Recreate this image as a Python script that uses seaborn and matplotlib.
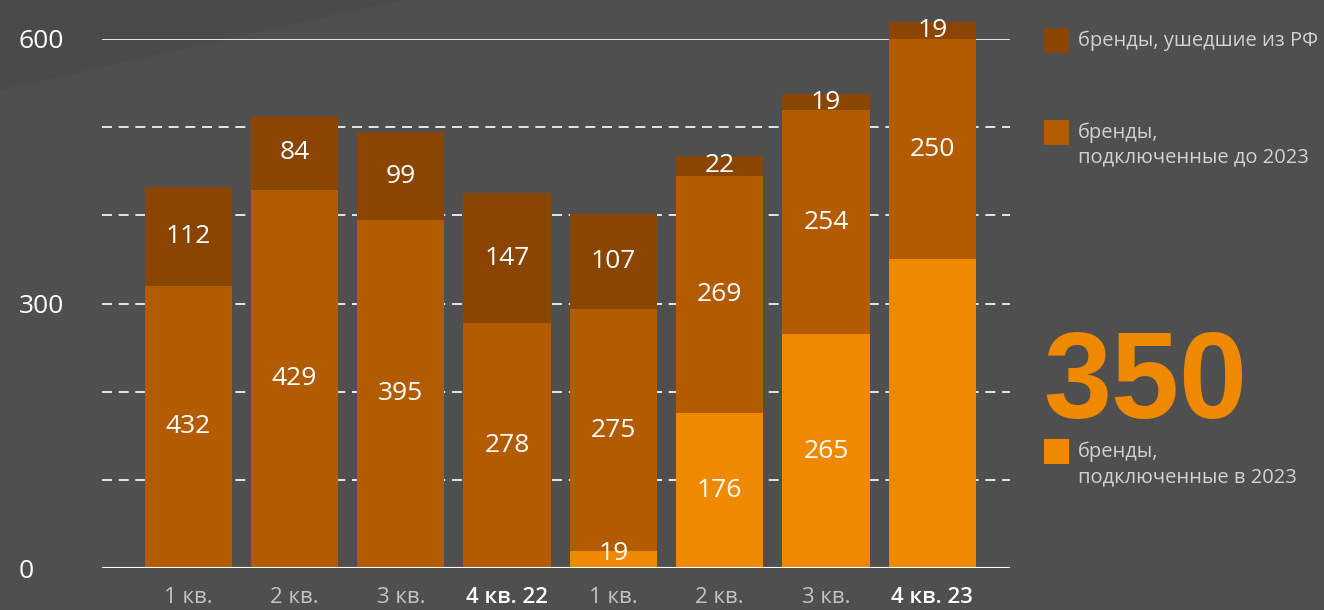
import numpy as np
import pandas as pd
import seaborn as sns
import matplotlib.pyplot as plt
from matplotlib.patches import Rectangle, Polygon

# data
quarters = ["1 кв.", "2 кв.", "3 кв.", "4 кв. 22", "1 кв.", "2 кв.", "3 кв.", "4 кв. 23"]
new_2023 = [0, 0, 0, 0, 19, 176, 265, 350]
before_2023 = [320, 429, 395, 278, 275, 269, 254, 250]
left_rf = [112, 84, 99, 147, 107, 22, 19, 19]

new_labels = ["", "", "", "", "19", "176", "265", ""]
before_labels = ["432", "429", "395", "278", "275", "269", "254", "250"]
left_labels = ["112", "84", "99", "147", "107", "22", "19", "19"]

legend_texts = ["бренды, ушедшие из РФ", "бренды,\nподключенные до 2023", "бренды,\nподключенные в 2023"]
big_number = "350"

bg = "#4F4F4F"
c_dark = "#8A4502"
c_mid = "#B25B00"
c_light = "#EF8A00"

sns.set_style("dark")
plt.rcParams["font.family"] = ["Open Sans", "DejaVu Sans"]

df = pd.DataFrame({"pos": range(len(quarters)), "new": new_2023,
                   "before": before_2023, "left": left_rf})
df["lvl1"] = df["new"]
df["lvl2"] = df["new"] + df["before"]
df["lvl3"] = df["lvl2"] + df["left"]

fig = plt.figure(figsize=(13.24, 6.10), dpi=100, facecolor=bg)
W, H = 1324, 610

# slightly darker corner in the background
fig.patches.append(Polygon([[0, 1], [400 / W, 1], [0, 1 - 90 / H]], closed=True,
                           transform=fig.transFigure, facecolor="#4A4A4A",
                           edgecolor="none", zorder=-10))

ax = fig.add_axes([102 / W, 42 / H, 908 / W, 529 / H])
ax.set_facecolor("none")

# stacked bars: draw totals first, then smaller layers on top
for col, color in [("lvl3", c_dark), ("lvl2", c_mid), ("lvl1", c_light)]:
    sns.barplot(data=df, x="pos", y=col, color=color, saturation=1, width=0.82,
                linewidth=0, ax=ax, zorder=2)
for p in ax.patches:
    p.set_clip_on(False)

# grid lines
for yv in [100, 200, 300, 400, 500]:
    ax.axhline(yv, color="white", lw=1.2, ls=(0, (6, 4)), zorder=1)
ax.axhline(600, color="white", lw=1.2, zorder=1)
ax.axhline(0, color="white", lw=1.5, zorder=3)

# segment labels
for i in range(len(quarters)):
    n, b, l = new_2023[i], before_2023[i], left_rf[i]
    if new_labels[i]:
        ax.text(i, max(n / 2, 16), new_labels[i], ha="center", va="center",
                color="white", fontsize=19, zorder=4)
    ax.text(i, n + b / 2, before_labels[i], ha="center", va="center",
            color="white", fontsize=19, zorder=4)
    ax.text(i, n + b + l / 2, left_labels[i], ha="center", va="center",
            color="white", fontsize=19, zorder=4)

ax.set_xlim(-0.81, 7.73)
ax.set_ylim(0, 600)
ax.set_xlabel("")
ax.set_ylabel("")
for s in ax.spines.values():
    s.set_visible(False)
ax.grid(False)

ax.set_yticks([0, 300, 600], ["0", "300", "600"])
ax.tick_params(axis="y", length=0, pad=60, labelsize=19, labelcolor="white")
for lbl in ax.get_yticklabels():
    lbl.set_ha("left")

ax.set_xticks(range(len(quarters)), quarters)
ax.tick_params(axis="x", length=0, pad=14, labelsize=16)
for i, lbl in enumerate(ax.get_xticklabels()):
    if quarters[i].startswith("4"):
        lbl.set_color("white")
        lbl.set_fontweight("semibold")
    else:
        lbl.set_color("#C4C4C4")

# legend on the right
squares = [(28, c_dark), (120, c_mid), (439, c_light)]
centers = [41, 145, 464.5]
for (top, color), txt, cy in zip(squares, legend_texts, centers):
    fig.patches.append(Rectangle((1044 / W, 1 - (top + 25) / H), 25 / W, 25 / H,
                                 transform=fig.transFigure, facecolor=color,
                                 edgecolor="none"))
    fig.text(1078 / W, 1 - cy / H, txt, ha="left", va="center", color="#D2D2D2",
             fontsize=14.5, linespacing=1.3)

fig.text(1043 / W, 1 - 418 / H, big_number, ha="left", va="baseline",
         color=c_light, fontsize=88, fontweight="bold", family="Liberation Sans")

fig.savefig("out.png", dpi=100, facecolor=bg)
